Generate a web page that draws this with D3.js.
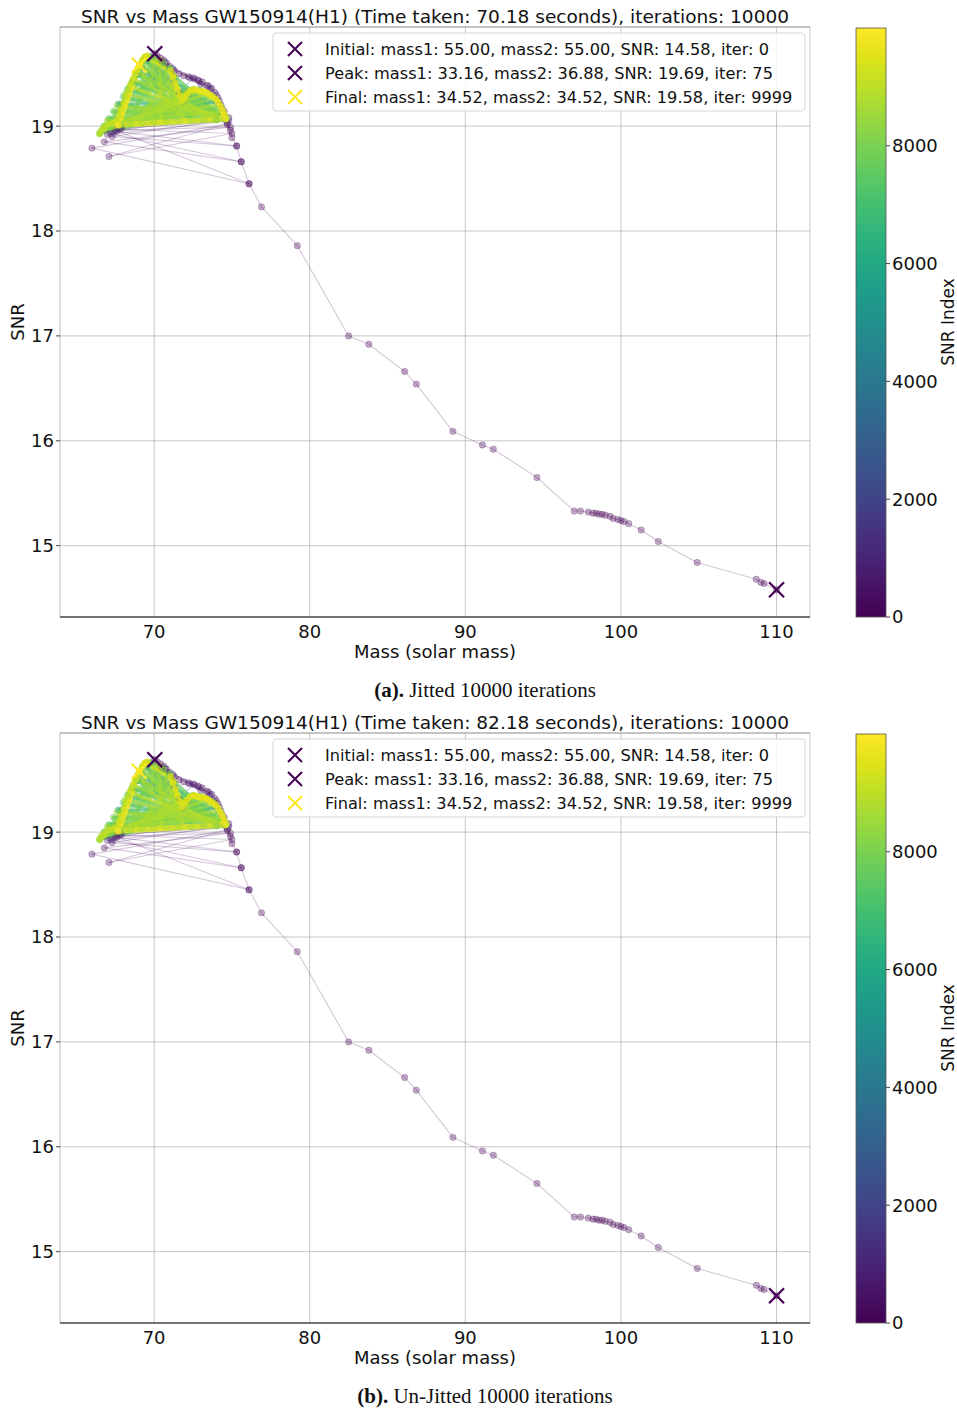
<!DOCTYPE html>
<html><head><meta charset="utf-8">
<script src="https://cdn.jsdelivr.net/npm/d3@7"></script>
<style>body{margin:0;background:#fff}</style>
</head><body>
<svg id="c" width="957" height="1409" xmlns="http://www.w3.org/2000/svg"></svg>
<script>
// ---------------- DATA ----------------
const xTicks = [70, 80, 90, 100, 110];
const yTicks = [15, 16, 17, 18, 19];
const cbTicks = [0, 2000, 4000, 6000, 8000];

const panelTitles = [
  "SNR vs Mass GW150914(H1) (Time taken: 70.18 seconds), iterations: 10000",
  "SNR vs Mass GW150914(H1) (Time taken: 82.18 seconds), iterations: 10000"
];
const captionLabels = ["(a).", "(b)."];
const captionTexts = [" Jitted 10000 iterations", " Un-Jitted 10000 iterations"];

const legendLabels = [
  "Initial: mass1: 55.00, mass2: 55.00, SNR: 14.58, iter: 0",
  "Peak: mass1: 33.16, mass2: 36.88, SNR: 19.69, iter: 75",
  "Final: mass1: 34.52, mass2: 34.52, SNR: 19.58, iter: 9999"
];
const markerMass = [110.00, 70.04, 69.04];
const markerSNR = [14.58, 19.69, 19.58];
const markerIter = [0, 75, 9999];

// descent from the initial guess
const descentIter = [0,1,2,3,4,5,6,7,8,9,10,11,12,13,14,15,16,17,18,19,20,21,22,23,24,25,26,27,28,29,30,31,32,33,34,35,36];
const descentMass = [110.0,109.2,109.0,108.7,104.9,102.4,101.3,100.5,100.2,100.0,99.8,99.5,99.3,99.0,98.8,98.6,98.4,98.2,97.9,97.4,97.0,94.6,91.8,91.1,89.2,86.85,86.1,83.8,82.5,79.2,76.9,76.1,75.6,75.3,75.0,74.9,74.7];
const descentSNR = [14.58,14.64,14.65,14.68,14.84,15.04,15.15,15.21,15.23,15.24,15.25,15.26,15.28,15.29,15.30,15.30,15.31,15.31,15.32,15.33,15.33,15.65,15.92,15.96,16.09,16.54,16.66,16.92,17.00,17.86,18.23,18.45,18.66,18.81,18.89,18.96,19.03];

// climb to the peak
const climbIter = [37,39,41,43,45,47,49,51,53,55,57,59,61,63,65,67,69,71,73,75];
const climbMass = [74.8,74.5,74.3,74.1,73.9,73.7,73.4,73.1,72.8,72.5,72.2,71.9,71.6,71.3,71.0,70.8,70.6,70.4,70.2,70.04];
const climbSNR = [19.08,19.14,19.20,19.27,19.32,19.36,19.39,19.42,19.44,19.46,19.47,19.48,19.50,19.53,19.57,19.60,19.63,19.65,19.67,19.69];

// early exploration around the hump
const exploreIter = [80,90,100,110,130,150,170,190,210,240,270,300,330,360,400,440,480,520,560,600,640,680,720,760,800,850,900,950,1000,1100,1200];
const exploreMass = [70.5,67.2,75.6,66.8,74.9,67.5,76.1,66.0,74.7,67.1,75.0,67.8,74.6,67.3,75.3,67.6,74.2,73.5,72.9,72.3,73.0,74.4,67.0,74.8,67.9,72.6,71.2,70.7,74.0,67.4,73.6];
const exploreSNR = [19.62,18.93,18.66,18.85,18.99,18.96,18.45,18.79,19.02,18.71,18.93,18.97,19.06,18.90,18.81,18.95,19.24,19.38,19.43,19.46,19.40,19.16,18.92,19.05,18.98,19.45,19.55,19.61,19.30,18.94,19.36];

// middle iterations (teal)
const midIter = [2500,2800,3100,3400,3700,4000,4300,4600,4900,5200,5500,5800,6100,6400,6700,6900];
const midMass = [69.8,71.85,69.2,71.6,69.5,71.3,68.9,72.2,68.6,74.1,67.7,71.0,68.3,72.5,69.0,71.8];
const midSNR = [19.66,19.24,19.56,19.32,19.62,19.43,19.49,19.31,19.42,19.22,19.21,19.55,19.35,19.35,19.52,19.26];

// late iterations (green)
const lateIter = [7000,7020,7040,7060,7080,7100,7120,7140,7160,7180,7200,7220,7240,7260,7280,7300,7320,7340,7360,7380,
  7400,7420,7440,7460,7480,7500,7520,7540,7560,7580,7600,7620,7640,7660,7680,7700,7720,7740,7760,7780,
  7800,7820,7840,7860,7880,7900,7920,7940,7960,7980,8000,8020,8040,8060,8080,8100,8120,8140,8160,8180,
  8200,8220,8240,8260,8280,8300,8320,8340,8360,8380,8400,8420,8440,8460,8480,8500,8520,8540,8560,8580,
  8600,8620,8640,8660,8680,8700,8720,8740,8760,8780,8800,8820,8840,8860,8880,8900,8920,8940,8960,8980];
const lateMass = [74.6,69.8,74.0,69.5,74.6,69.2,74.65,68.9,74.55,68.6,74.0,68.3,74.6,68.0,73.2,67.7,74.6,67.4,74.5,67.1,
  74.6,66.8,74.3,66.5,74.0,67.2,73.7,67.8,73.3,66.8,72.9,67.2,72.5,67.1,71.85,67.8,71.0,67.2,70.6,66.5,
  70.2,68.5,69.8,72.4,69.5,71.6,71.0,69.2,72.9,70.0,69.2,74.6,68.9,74.0,70.6,70.8,68.6,73.7,67.4,74.3,
  66.8,74.4,67.5,73.9,66.6,73.0,68.2,72.3,67.0,71.7,69.6,70.0,71.2,69.7,72.8,69.3,73.6,68.7,74.3,68.1,
  74.62,67.6,74.45,67.0,74.2,66.6,73.4,68.0,72.6,67.3,71.9,68.8,71.3,70.4,70.4,72.0,69.0,73.8,68.4,74.6];
const lateSNR = [19.07,19.66,19.06,19.62,19.07,19.56,19.08,19.49,19.07,19.42,19.06,19.35,19.07,19.28,19.06,19.21,19.07,19.14,19.12,19.07,
  19.07,19.00,19.18,18.93,19.25,18.99,19.29,19.01,19.32,19.00,19.34,18.99,19.35,19.07,19.24,19.01,19.55,18.99,19.60,18.93,
  19.64,19.02,19.66,19.05,19.62,19.05,19.55,19.03,19.34,19.04,19.56,19.07,19.49,19.06,19.60,19.04,19.42,19.29,19.14,19.18,
  19.00,19.15,19.00,19.27,18.95,19.34,19.02,19.33,19.05,19.27,19.03,19.65,19.04,19.64,19.05,19.58,19.06,19.45,19.07,19.31,
  19.08,19.19,19.13,19.05,19.21,18.96,19.31,19.02,19.35,19.00,19.25,19.03,19.48,19.04,19.63,19.05,19.52,19.06,19.38,19.07];

// final iterations (yellow)
const finalIter = [8982,8984,8986,8988,8990,8992,8994,8996,8998,
  9000,9020,9040,9060,9080,9100,9120,9140,9160,9180,9200,9220,9240,9260,9280,9300,9320,9340,9360,
  9400,9420,9440,9460,9480,9500,9520,9540,9560,9580,9600,9620,9640,9660,9680,9700,9720,9740,9760,9780,9800,9820,
  9900,9999];
const finalMass = [74.0,73.2,72.4,71.6,70.8,70.0,69.2,68.4,67.7,
  66.5,66.7,66.9,67.1,67.35,67.6,67.75,67.9,68.05,68.2,68.35,68.5,68.65,68.8,68.95,69.1,69.25,69.4,69.55,
  71.05,71.2,71.35,71.5,71.65,71.8,71.95,72.15,72.35,72.55,72.75,72.95,73.15,73.35,73.55,73.75,73.95,74.1,74.25,74.4,74.5,74.6,
  67.7,69.04];
const finalSNR = [19.06,19.06,19.05,19.05,19.04,19.04,19.03,19.02,19.01,
  18.93,18.97,19.00,19.02,19.03,19.04,19.10,19.16,19.22,19.28,19.34,19.40,19.45,19.50,19.55,19.59,19.63,19.66,19.67,
  19.53,19.47,19.41,19.35,19.29,19.24,19.27,19.31,19.34,19.35,19.34,19.33,19.33,19.32,19.30,19.28,19.26,19.23,19.19,19.15,19.11,19.07,
  19.01,19.58];

// ---------------- BUILD ----------------
function seg(it, m, s){ return it.map((d,i)=>({iter:d, mass:m[i], snr:s[i]})); }
const path = [].concat(
  seg(descentIter, descentMass, descentSNR),
  seg(climbIter, climbMass, climbSNR),
  seg(exploreIter, exploreMass, exploreSNR),
  seg(midIter, midMass, midSNR),
  seg(lateIter, lateMass, lateSNR),
  seg(finalIter, finalMass, finalSNR)
);
const maxIter = 9999;
const color = d3.scaleSequential(d3.interpolateViridis).domain([0, maxIter]);

const svg = d3.select("#c");
const FONT = "DejaVu Sans, sans-serif";

const L = 60, R = 810, T = 27, B = 617;
const x = d3.scaleLinear().domain([63.95, 112.15]).range([L, R]);
const y = d3.scaleLinear().domain([14.32, 19.945]).range([B, T]);
const cb = d3.scaleLinear().domain([0, maxIter]).range([B, T + 1]);

function xMark(g, cx, cy, h, col, sw){
  g.append("path")
    .attr("d", `M${cx-h},${cy-h}L${cx+h},${cy+h}M${cx-h},${cy+h}L${cx+h},${cy-h}`)
    .attr("stroke", col).attr("stroke-width", sw).attr("fill", "none");
}
function lineW(it){ return it >= 9000 ? 5.5 : it >= 7000 ? 3.0 : it >= 2500 ? 2.4 : 1.1; }
function lineO(it){ return it >= 9000 ? 0.85 : it >= 2500 ? 0.5 : 0.22; }

function drawPanel(k, dy){
  const g = svg.append("g").attr("transform", `translate(0,${dy})`);
  const cid = "clip" + k;
  g.append("clipPath").attr("id", cid).append("rect")
    .attr("x", L).attr("y", T).attr("width", R-L).attr("height", B-T);

  // grid
  g.append("g").selectAll("line").data(xTicks).join("line")
    .attr("x1", d=>x(d)).attr("x2", d=>x(d)).attr("y1", T).attr("y2", B)
    .attr("stroke", "#b0b0b0").attr("stroke-width", 0.9).attr("stroke-opacity", 0.8);
  g.append("g").selectAll("line").data(yTicks).join("line")
    .attr("x1", L).attr("x2", R).attr("y1", d=>y(d)).attr("y2", d=>y(d))
    .attr("stroke", "#b0b0b0").attr("stroke-width", 0.9).attr("stroke-opacity", 0.8);

  const pg = g.append("g").attr("clip-path", `url(#${cid})`);
  const segs = d3.pairs(path);
  pg.append("g").selectAll("line").data(segs).join("line")
    .attr("x1", d=>x(d[0].mass)).attr("y1", d=>y(d[0].snr))
    .attr("x2", d=>x(d[1].mass)).attr("y2", d=>y(d[1].snr))
    .attr("stroke", d=>color(d[0].iter))
    .attr("stroke-width", d=>lineW(d[0].iter))
    .attr("stroke-opacity", d=>lineO(d[0].iter))
    .attr("stroke-linecap", "round");
  pg.append("g").selectAll("circle").data(path).join("circle")
    .attr("cx", d=>x(d.mass)).attr("cy", d=>y(d.snr)).attr("r", 3.2)
    .attr("fill", d=>color(d.iter)).attr("fill-opacity", d=> d.iter >= 9000 ? 0.75 : 0.32)
    .attr("stroke", d=>color(d.iter)).attr("stroke-opacity", 0.3).attr("stroke-width", 0.8);

  markerMass.forEach((m,i)=>{
    xMark(pg, x(m), y(markerSNR[i]), 7.5, color(markerIter[i]), 2.2);
  });

  // spines
  g.append("line").attr("x1", L).attr("x2", L).attr("y1", T).attr("y2", B).attr("stroke", "#bbbbbb").attr("stroke-width", 1);
  g.append("line").attr("x1", R).attr("x2", R).attr("y1", T).attr("y2", B).attr("stroke", "#cccccc").attr("stroke-width", 1);
  g.append("line").attr("x1", L).attr("x2", R).attr("y1", T).attr("y2", T).attr("stroke", "#888").attr("stroke-width", 1);
  g.append("line").attr("x1", L).attr("x2", R).attr("y1", B).attr("y2", B).attr("stroke", "#444").attr("stroke-width", 1.3);

  // y ticks
  const yt = g.append("g");
  yt.selectAll("line").data(yTicks).join("line")
    .attr("x1", L-4).attr("x2", L).attr("y1", d=>y(d)).attr("y2", d=>y(d)).attr("stroke", "#444");
  yt.selectAll("text").data(yTicks).join("text")
    .attr("x", L-6).attr("y", d=>y(d)).attr("dy", "0.36em").attr("text-anchor", "end")
    .attr("font-family", FONT).attr("font-size", 18).attr("fill", "#111").text(d=>d);
  g.append("g").selectAll("text").data(xTicks).join("text")
    .attr("x", d=>x(d)).attr("y", B+21).attr("text-anchor", "middle")
    .attr("font-family", FONT).attr("font-size", 18).attr("fill", "#111").text(d=>d);

  g.append("text").attr("x", (L+R)/2).attr("y", B+41).attr("text-anchor", "middle")
    .attr("font-family", FONT).attr("font-size", 18).attr("fill", "#111").text("Mass (solar mass)");
  g.append("text").attr("transform", `translate(24,${(T+B)/2}) rotate(-90)`).attr("text-anchor", "middle")
    .attr("font-family", FONT).attr("font-size", 18).attr("fill", "#111").text("SNR");
  g.append("text").attr("x", 435).attr("y", T-4).attr("text-anchor", "middle")
    .attr("font-family", FONT).attr("font-size", 18.5).attr("fill", "#111")
    .attr("textLength", 708).attr("lengthAdjust", "spacingAndGlyphs").text(panelTitles[k]);

  // legend
  const lg = g.append("g");
  lg.append("rect").attr("x", 273).attr("y", 33).attr("width", 532).attr("height", 78).attr("rx", 3)
    .attr("fill", "#fff").attr("fill-opacity", 0.85).attr("stroke", "#d5d5d5");
  legendLabels.forEach((t,i)=>{
    const cy = 49 + i*24;
    xMark(lg, 295, cy, 7, color(markerIter[i]), 2);
    lg.append("text").attr("x", 325).attr("y", cy).attr("dy", "0.36em")
      .attr("font-family", FONT).attr("font-size", 16.2).attr("fill", "#111").text(t);
  });

  // colorbar
  const CX = 856, CW = 30;
  const gid = "grad" + k;
  const grad = g.append("defs").append("linearGradient").attr("id", gid)
    .attr("x1", 0).attr("y1", 1).attr("x2", 0).attr("y2", 0);
  d3.range(0, 1.0001, 0.05).forEach(t=>{
    grad.append("stop").attr("offset", t).attr("stop-color", d3.interpolateViridis(t));
  });
  g.append("rect").attr("x", CX).attr("y", T+1).attr("width", CW).attr("height", B-T-1)
    .attr("fill", `url(#${gid})`).attr("stroke", "#555").attr("stroke-width", 0.8);
  const ct = g.append("g");
  ct.selectAll("line").data(cbTicks).join("line")
    .attr("x1", CX+CW).attr("x2", CX+CW+4).attr("y1", d=>cb(d)).attr("y2", d=>cb(d)).attr("stroke", "#444");
  ct.selectAll("text").data(cbTicks).join("text")
    .attr("x", CX+CW+6).attr("y", d=>cb(d)).attr("dy", "0.36em")
    .attr("font-family", FONT).attr("font-size", 18).attr("fill", "#111").text(d=>d);
  g.append("text").attr("transform", `translate(954,${(T+B)/2}) rotate(-90)`).attr("text-anchor", "middle")
    .attr("font-family", FONT).attr("font-size", 17).attr("fill", "#111").text("SNR Index");

  // caption
  const cap = g.append("text").attr("x", 485).attr("y", B+80).attr("text-anchor", "middle")
    .attr("font-family", "Liberation Serif, Times New Roman, serif").attr("font-size", 21).attr("fill", "#111");
  cap.append("tspan").attr("font-weight", "bold").text(captionLabels[k]);
  cap.append("tspan").text(captionTexts[k]);
}

drawPanel(0, 0);
drawPanel(1, 706);
</script>
</body></html>
